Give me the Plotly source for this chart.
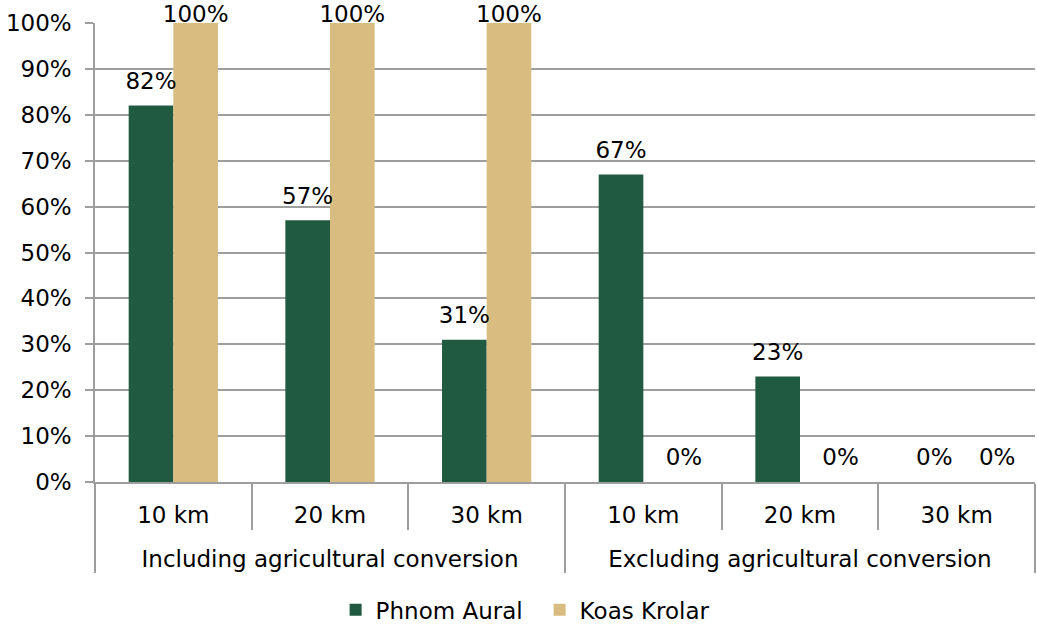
import plotly.graph_objects as go

scenarios = ["Including agricultural conversion"] * 3 + ["Excluding agricultural conversion"] * 3
distances = ["10 km", "20 km", "30 km", "10 km", "20 km", "30 km"]
phnom_aural = [82, 57, 31, 67, 23, 0]
koas_krolar = [100, 100, 100, 0, 0, 0]
y_ticks = list(range(0, 101, 10))

FONT = "DejaVu Sans"
FS = 23
GREEN = "#1F5A41"
TAN = "#D9BD80"
GRID = "#9E9E9E"
GAP = 0.43

# an empty short line under the distance labels widens the gap to the scenario row
inner = [d + "<br><span style='font-size:14px'> </span>" for d in distances]
xcat = [scenarios, inner]

fig = go.Figure()
series = [("Phnom Aural", phnom_aural, GREEN, "a", "top center"),
          ("Koas Krolar", koas_krolar, TAN, "b", "top right")]
for name, vals, col, grp, _ in series:
    fig.add_trace(go.Bar(
        name=name, x=xcat, y=vals, offsetgroup=grp,
        marker=dict(color=col, line=dict(width=0)),
        hoverinfo="skip",
    ))
for name, vals, col, grp, zero_pos in series:
    # value labels; the nominal text size only sets the lift above the bar top
    # (labels of full-height bars sit tight to the top of the plot)
    full = [v >= 100 for v in vals]
    fig.add_trace(go.Scatter(
        x=xcat, y=vals, offsetgroup=grp, mode="markers+text",
        text=[f"<span style='font-size:{FS}px'>{v}%</span>" for v in vals],
        textposition=[zero_pos if v == 0 else "top center" for v in vals],
        textfont=dict(family=FONT, size=[4 if f else 67 for f in full], color="#000"),
        marker=dict(size=[0] * len(vals), color="rgba(0,0,0,0)", opacity=0,
                    line=dict(width=0)),
        showlegend=False, cliponaxis=False, hoverinfo="skip",
    ))

fig.update_layout(
    width=1037, height=624,
    margin=dict(l=95, r=2, t=23, b=142, autoexpand=False),
    paper_bgcolor="white", plot_bgcolor="white",
    barmode="group", bargap=GAP, bargroupgap=0,
    scattermode="group", scattergap=GAP,
    font=dict(family=FONT, size=FS, color="#000"),
    legend=dict(orientation="h", x=0.473, xanchor="center", y=-0.2785, yanchor="middle",
                font=dict(family=FONT, size=FS), itemwidth=30, entrywidth=159,
                traceorder="normal"),
)
fig.update_yaxes(
    range=[0, 100], tickvals=y_ticks, ticktext=[f"{v}%" for v in y_ticks],
    showgrid=True, gridcolor=GRID, gridwidth=1.5,
    ticks="outside", ticklen=8, tickcolor=GRID, tickwidth=1.5,
    ticklabelstandoff=9,
    showline=True, linecolor=GRID, linewidth=1.5, zeroline=False,
    tickfont=dict(family=FONT, size=FS), automargin=False,
)
fig.update_xaxes(
    type="multicategory", automargin=False,
    showline=True, linecolor=GRID, linewidth=1.5,
    ticks="outside", tickson="boundaries", ticklen=46, tickcolor=GRID, tickwidth=1.5,
    ticklabelstandoff=12,
    showdividers=True, dividercolor=GRID, dividerwidth=1.5,
    tickfont=dict(family=FONT, size=FS),
)

fig.write_html("out.html")
